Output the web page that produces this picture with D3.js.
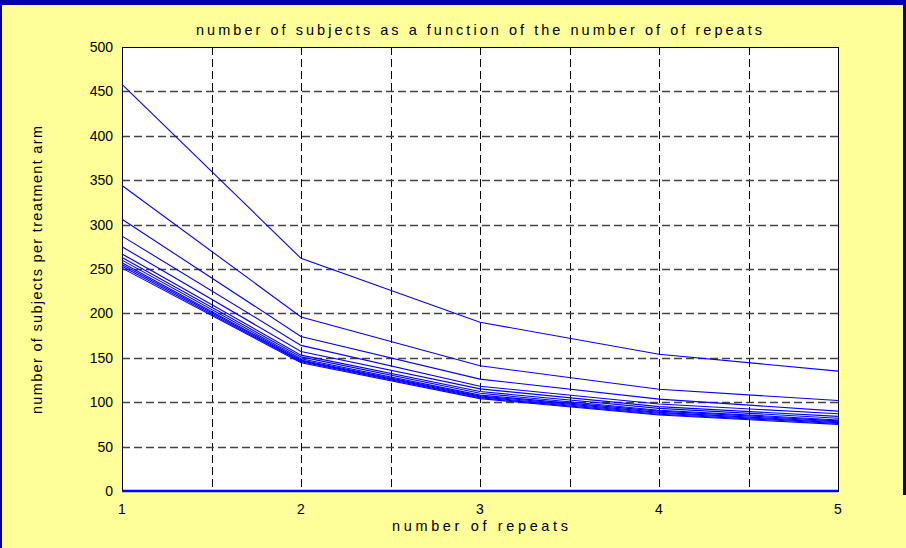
<!DOCTYPE html>
<html>
<head>
<meta charset="utf-8">
<script src="https://cdn.jsdelivr.net/npm/d3@7"></script>
<style>
  body { margin: 0; background: #ffff99; }
  svg { display: block; font-family: "Liberation Sans", Arial, sans-serif; }
</style>
</head>
<body>
<svg id="chart" width="906" height="548"></svg>
<script>
// values
var repeats = [1, 2, 3, 4, 5];
var xTicks = [1, 2, 3, 4, 5];
var xGrid = [1.5, 2, 2.5, 3, 3.5, 4, 4.5];
var yTicks = [0, 50, 100, 150, 200, 250, 300, 350, 400, 450, 500];

// one row per curve, number of subjects at 1..5 repeats
var subjectCurves = [
  [458, 262, 190, 154, 135],
  [344, 196, 141, 114.5, 102],
  [306, 174, 126, 103.5, 90],
  [287, 164, 118, 98, 87],
  [275, 157, 115, 95, 84],
  [267, 153, 112, 93, 82],
  [263, 151, 110, 91, 80],
  [260, 149, 108, 90, 79],
  [257, 147.5, 107, 88.5, 78],
  [255, 146.5, 106, 87.5, 77],
  [253, 145.5, 105, 86.5, 76],
  [251, 144.5, 104, 85.5, 75]
];
var zeroLine = [0, 0, 0, 0, 0];

var titleText = "number of subjects as a function of the number of of repeats";
var xLabel = "number of repeats";
var yLabel = "number of subjects per treatment arm";

var svg = d3.select("#chart");
var W = 906, H = 548;
var plot = { left: 122, right: 838, top: 47, bottom: 491 };

// background + blue frame bits
svg.append("rect").attr("width", W).attr("height", H).attr("fill", "#ffff99");
svg.append("rect").attr("x", 0).attr("y", 0).attr("width", W).attr("height", 5).attr("fill", "#0000aa");
svg.append("rect").attr("x", 0).attr("y", 0).attr("width", 2).attr("height", H).attr("fill", "#0000aa");
svg.append("rect").attr("x", 903).attr("y", 0).attr("width", 3).attr("height", 495).attr("fill", "#0000aa");

var x = d3.scaleLinear().domain([1, 5]).range([plot.left, plot.right]);
var y = d3.scaleLinear().domain([0, 500]).range([plot.bottom, plot.top]);

svg.append("rect")
  .attr("x", plot.left).attr("y", plot.top)
  .attr("width", plot.right - plot.left).attr("height", plot.bottom - plot.top)
  .attr("fill", "#fff");

// dashed grid
svg.append("g").selectAll("line").data(xGrid).enter().append("line")
  .attr("x1", function (d) { return Math.round(x(d)) + 0.5; })
  .attr("x2", function (d) { return Math.round(x(d)) + 0.5; })
  .attr("y1", plot.top).attr("y2", plot.bottom)
  .attr("stroke", "#000").attr("stroke-width", 1)
  .attr("stroke-dasharray", "8,4");

svg.append("g").selectAll("line").data(yTicks.slice(1, -1)).enter().append("line")
  .attr("x1", plot.left).attr("x2", plot.right)
  .attr("y1", function (d) { return Math.round(y(d)) + 0.5; })
  .attr("y2", function (d) { return Math.round(y(d)) + 0.5; })
  .attr("stroke", "#444").attr("stroke-width", 1.3)
  .attr("stroke-dasharray", "8,4");

// frame
svg.append("rect")
  .attr("x", plot.left + 0.5).attr("y", plot.top + 0.5)
  .attr("width", plot.right - plot.left).attr("height", plot.bottom - plot.top)
  .attr("fill", "none").attr("stroke", "#000").attr("stroke-width", 1);

// curves
var line = d3.line()
  .x(function (d, i) { return x(repeats[i]); })
  .y(function (d) { return y(d); });

svg.append("g").selectAll("path").data(subjectCurves).enter().append("path")
  .attr("d", line)
  .attr("fill", "none")
  .attr("stroke", "#0000ff")
  .attr("stroke-width", 1.1);

svg.append("path").datum(zeroLine)
  .attr("d", line)
  .attr("fill", "none")
  .attr("stroke", "#0000ff")
  .attr("stroke-width", 2.5);

// tick labels
svg.append("g").selectAll("text").data(yTicks).enter().append("text")
  .attr("x", 113)
  .attr("y", function (d) { return y(d) + 5; })
  .attr("text-anchor", "end")
  .attr("font-size", 14)
  .text(function (d) { return d; });

svg.append("g").selectAll("text").data(xTicks).enter().append("text")
  .attr("x", function (d) { return x(d); })
  .attr("y", 514)
  .attr("text-anchor", "middle")
  .attr("font-size", 14)
  .text(function (d) { return d; });

// titles
svg.append("text")
  .attr("x", 196).attr("y", 35)
  .attr("font-size", 14.5)
  .attr("textLength", 566).attr("lengthAdjust", "spacing")
  .text(titleText);

svg.append("text")
  .attr("x", 392).attr("y", 531)
  .attr("font-size", 14.5)
  .attr("textLength", 176).attr("lengthAdjust", "spacing")
  .text(xLabel);

svg.append("text")
  .attr("transform", "translate(42,414) rotate(-90)")
  .attr("font-size", 14.5)
  .attr("textLength", 288).attr("lengthAdjust", "spacing")
  .text(yLabel);
</script>
</body>
</html>
